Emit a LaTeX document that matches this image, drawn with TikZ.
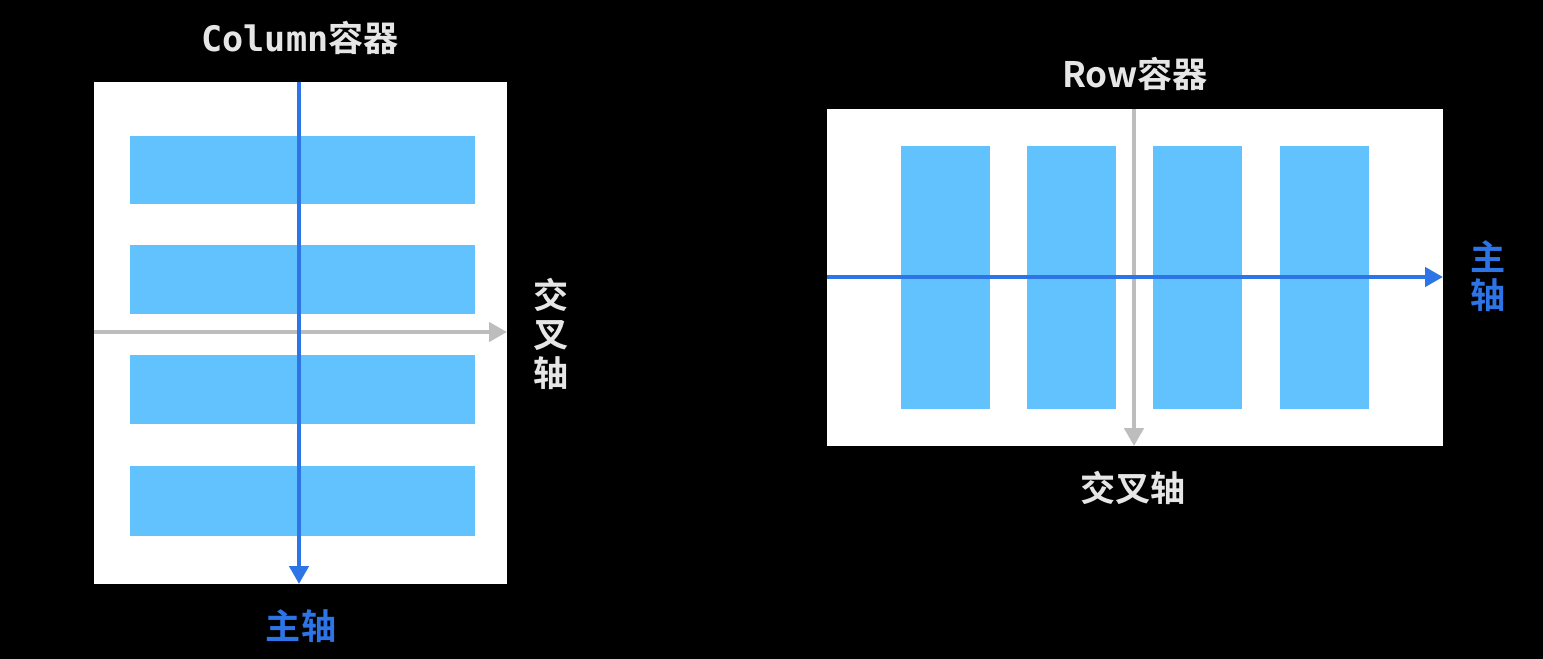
\documentclass[tikz,border=0pt]{standalone}
\usepackage{fontspec}
\setmainfont{Noto Sans CJK SC}[BoldFont={Noto Sans CJK SC Bold}]
\newfontfamily\codefont{DejaVu Sans Mono}
\usetikzlibrary{arrows.meta}
\definecolor{Bar}{HTML}{62C2FD}
\definecolor{MainBlue}{HTML}{2D74E6}
\definecolor{CrossGray}{HTML}{BDBDBD}
\definecolor{LabelGray}{HTML}{E6E6E6}
\tikzstyle{none}=[inner sep=0pt]
\tikzstyle{panel}=[fill=white,draw=none]
\tikzstyle{bar}=[fill=Bar,draw=none]
\tikzstyle{mainaxis}=[-{Triangle[length=0.36cm,width=0.38cm]},draw=MainBlue,line width=0.09cm]
\tikzstyle{crossaxis}=[-{Triangle[length=0.36cm,width=0.38cm]},draw=CrossGray,line width=0.09cm]
\tikzstyle{title}=[inner sep=0pt,text=LabelGray,font=\bfseries\fontsize{20}{22}\selectfont]
\tikzstyle{mainlabel}=[inner sep=0pt,text=MainBlue,font=\bfseries\fontsize{20}{22}\selectfont,align=center]
\tikzstyle{crosslabel}=[inner sep=0pt,text=LabelGray,font=\bfseries\fontsize{20}{22}\selectfont,align=center]

\begin{document}
\begin{tikzpicture}[x=0.02cm,y=-0.02cm]
  \fill [black] (0,0) rectangle (1543,659);
  \useasboundingbox (0,0) rectangle (1543,659);
  % Column container
  \fill [style=panel] (94,82) rectangle (507,584);
  \fill [style=bar] (130,136) rectangle (475,204);
  \fill [style=bar] (130,245) rectangle (475,314);
  \fill [style=bar] (130,355) rectangle (475,424);
  \fill [style=bar] (130,466) rectangle (475,536);
  \node [style=title] (0) at (300, 38) {{\codefont\bfseries Column}容器};
  \node [style=none] (1) at (299, 82) {};
  \node [style=none] (2) at (299, 584) {};
  \node [style=none] (3) at (94, 332) {};
  \node [style=none] (4) at (507, 332) {};
  \node [style=mainlabel] (5) at (301, 626) {主轴};
  \node [style=crosslabel] (6) at (551, 334) {交\\叉\\轴};
  \draw [style=crossaxis] (3.center) to (4.center);
  \draw [style=mainaxis] (1.center) to (2.center);
  % Row container
  \fill [style=panel] (827,109) rectangle (1443,446);
  \fill [style=bar] (901,146) rectangle (990,409);
  \fill [style=bar] (1027,146) rectangle (1116,409);
  \fill [style=bar] (1153,146) rectangle (1242,409);
  \fill [style=bar] (1280,146) rectangle (1369,409);
  \node [style=title] (7) at (1135, 74) {Row容器};
  \node [style=none] (8) at (1134, 109) {};
  \node [style=none] (9) at (1134, 446) {};
  \node [style=none] (10) at (827, 277) {};
  \node [style=none] (11) at (1443, 277) {};
  \node [style=crosslabel] (12) at (1133, 488) {交叉轴};
  \node [style=mainlabel] (13) at (1488, 276) {主\\轴};
  \draw [style=crossaxis] (8.center) to (9.center);
  \draw [style=mainaxis] (10.center) to (11.center);
\end{tikzpicture}
\end{document}
